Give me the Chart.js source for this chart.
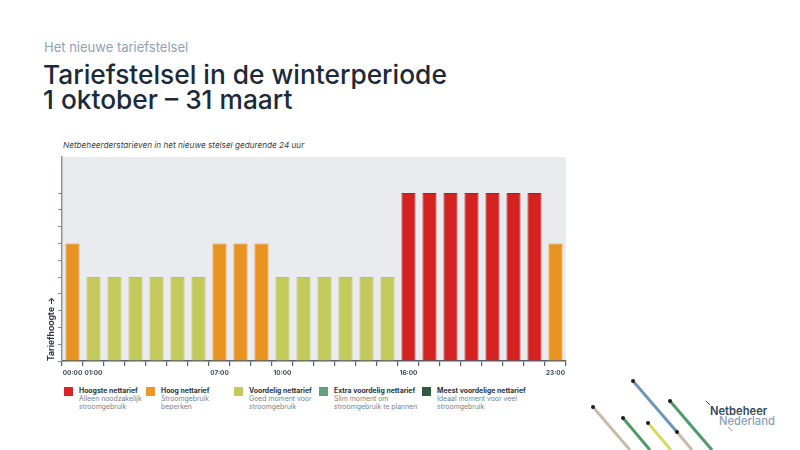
<!DOCTYPE html>
<html lang="nl">
<head>
<meta charset="utf-8">
<title>Tariefstelsel in de winterperiode</title>
<script src="https://cdn.jsdelivr.net/npm/chart.js@4.4.1/dist/chart.umd.min.js"></script>
<style>
  html, body { margin: 0; padding: 0; background: #ffffff; }
  body { width: 800px; height: 450px; position: relative; overflow: hidden; font-family: "Inter", "Lato", sans-serif; }
  .kicker { position: absolute; left: 44px; top: 39px; font-size: 13px; color: #8fa1b6; }
  .title { position: absolute; left: 43px; top: 62px; font-size: 26.3px; line-height: 25px; font-weight: 500; color: #1d2a39; }
  .subtitle { position: absolute; left: 63px; top: 140px; font-size: 8.2px; font-style: italic; color: #3a3f45; }
  #wrap { position: absolute; left: 30px; top: 150px; width: 550px; height: 235px; }
  .legend { position: absolute; top: 387px; left: 0; }
  .item { position: absolute; top: 0; }
  .item .sq { position: absolute; left: 0; top: 0px; width: 9px; height: 9px; }
  .item .tx { position: absolute; left: 15px; top: 0; font-size: 6.9px; line-height: 8px; color: #7a828a; white-space: nowrap; }
  .item .tx b { color: #2b3440; font-weight: 700; }
  #logo { position: absolute; left: 580px; top: 370px; }
</style>
</head>
<body>
<div class="kicker">Het nieuwe tariefstelsel</div>
<div class="title">Tariefstelsel in de winterperiode<br>1 oktober – 31 maart</div>
<div class="subtitle">Netbeheerderstarieven in het nieuwe stelsel gedurende 24 uur</div>
<div id="wrap"><canvas id="grafico"></canvas></div>
<div class="legend" id="legenda"></div>
<svg id="logo" width="220" height="80" viewBox="0 0 220 80">
  <g stroke-width="3" stroke-linecap="butt" fill="none">
    <line x1="13" y1="37" x2="50" y2="80" stroke="#c9bba8"/>
    <line x1="53" y1="11" x2="97" y2="62" stroke="#7095ba"/>
    <line x1="97" y1="62" x2="112" y2="80" stroke="#c9bba8"/>
    <line x1="90" y1="31" x2="132" y2="80" stroke="#4f9a6b"/>
    <line x1="43" y1="48" x2="70" y2="80" stroke="#4f9a6b"/>
    <line x1="68" y1="53" x2="91" y2="80" stroke="#d3da5c"/>
  </g>
  <g fill="#1d1d1d">
    <circle cx="13" cy="37" r="2"/><circle cx="53" cy="11" r="2"/><circle cx="97" cy="62" r="2"/>
    <circle cx="90" cy="31" r="2"/><circle cx="43" cy="48" r="2"/><circle cx="68" cy="53" r="2"/>
  </g>
  <line x1="126" y1="31" x2="130" y2="35" stroke="#34475c" stroke-width="1"/>
  <line x1="148" y1="57" x2="152" y2="61" stroke="#8aa0b8" stroke-width="1"/>
  <text x="130" y="45" font-family="Inter, sans-serif" font-size="11.2" font-weight="600" fill="#34475c">Netbeheer</text>
  <text x="139" y="55" font-family="Inter, sans-serif" font-size="11.2" font-weight="500" fill="#8aa0b8">Nederland</text>
</svg>

<script>
// Uren van de dag (24 staven)
const uren = ['00:00','01:00','02:00','03:00','04:00','05:00','06:00','07:00','08:00','09:00','10:00','11:00',
              '12:00','13:00','14:00','15:00','16:00','17:00','18:00','19:00','20:00','21:00','22:00','23:00'];
// Alleen deze labels staan onder de as
const zichtbareLabels = ['00:00','01:00','07:00','10:00','16:00','23:00'];
// Tariefhoogte per uur
const tariefhoogte = [7,5,5,5,5,5,5,7,7,7,5,5,5,5,5,5,10,10,10,10,10,10,10,7];

// Legenda
const legendaTitels = ['Hoogste nettarief','Hoog nettarief','Voordelig nettarief','Extra voordelig nettarief','Meest voordelige nettarief'];
const legendaTeksten = ['Alleen noodzakelijk<br>stroomgebruik','Stroomgebruik<br>beperken','Goed moment voor<br>stroomgebruik','Slim moment om<br>stroomgebruik te plannen','Ideaal moment voor veel<br>stroomgebruik'];
const legendaKleuren = ['#d7252a','#eb9826','#c6ca5d','#5fa27b','#2f5a41'];
const legendaX = [64, 146, 234, 319, 422];

// Kleur van een staaf hangt af van de tariefhoogte
const kleurPerHoogte = { 10: '#d42220', 7: '#e8931f', 5: '#c4c95b' };
const randPerHoogte = { 10: '#b51a1a', 7: '#e08a1a', 5: '#bcc152' };

function maakLegenda()
{
    let html = '';
    for (let i = 0; i < legendaTitels.length; i++) {
        html += '<div class="item" style="left:' + legendaX[i] + 'px">' +
                '<div class="sq" style="background:' + legendaKleuren[i] + '"></div>' +
                '<div class="tx"><b>' + legendaTitels[i] + '</b><br>' + legendaTeksten[i] + '</div></div>';
    }
    document.getElementById('legenda').innerHTML = html;
}

// Grijze achtergrond van het plotgebied
const achtergrond = {
    id: 'achtergrond',
    beforeDraw(chart) {
        const a = chart.chartArea;
        const ctx = chart.ctx;
        ctx.save();
        ctx.fillStyle = '#e9ebee';
        ctx.fillRect(a.left, a.top, a.right - a.left, a.bottom - a.top);
        ctx.restore();
    }
};

function graficoTarieven()
{
    const context = document.getElementById('grafico');
    new Chart(context, {
        type: 'bar',
        data: {
            labels: uren,
            datasets: [{
                label: 'Tariefhoogte',
                data: tariefhoogte,
                backgroundColor: tariefhoogte.map(v => kleurPerHoogte[v]),
                borderColor: tariefhoogte.map(v => randPerHoogte[v]),
                borderWidth: 1,
                barPercentage: 0.67,
                categoryPercentage: 1
            }]
        },
        options: {
            responsive: true,
            maintainAspectRatio: false,
            animation: false,
            layout: { padding: { top: 7, right: 14, bottom: 4, left: 0 } },
            plugins: {
                legend: { display: false },
                tooltip: { enabled: false }
            },
            scales: {
                x: {
                    afterFit(scale) { scale.height = 20; },
                    grid: {
                        drawOnChartArea: false,
                        offset: true,
                        tickLength: 5,
                        tickColor: '#56606a',
                        lineWidth: 1.2
                    },
                    border: { color: '#56606a', width: 1.5 },
                    ticks: {
                        autoSkip: false,
                        maxRotation: 0,
                        padding: 3,
                        color: '#3b4651',
                        font: { family: 'Inter', size: 6.4, weight: '700' },
                        callback: function(value) {
                            const l = uren[value];
                            return zichtbareLabels.includes(l) ? l : '';
                        }
                    }
                },
                y: {
                    min: 0,
                    max: 12.15,
                    afterFit(scale) { scale.width = 32; },
                    grid: {
                        drawOnChartArea: false,
                        tickLength: 4,
                        tickColor: ctx => (ctx.tick && ctx.tick.value <= 10) ? '#7c8790' : 'rgba(0,0,0,0)'
                    },
                    border: { color: '#8a969e', width: 1.5 },
                    ticks: { display: false, stepSize: 1 },
                    title: {
                        display: true,
                        text: 'Tariefhoogte →',
                        align: 'start',
                        color: '#2b3440',
                        font: { family: 'Inter', size: 8.6, weight: '700' },
                        padding: { top: 16, bottom: 0 }
                    }
                }
            }
        },
        plugins: [achtergrond]
    });
}

maakLegenda();
graficoTarieven();
</script>
</body>
</html>
